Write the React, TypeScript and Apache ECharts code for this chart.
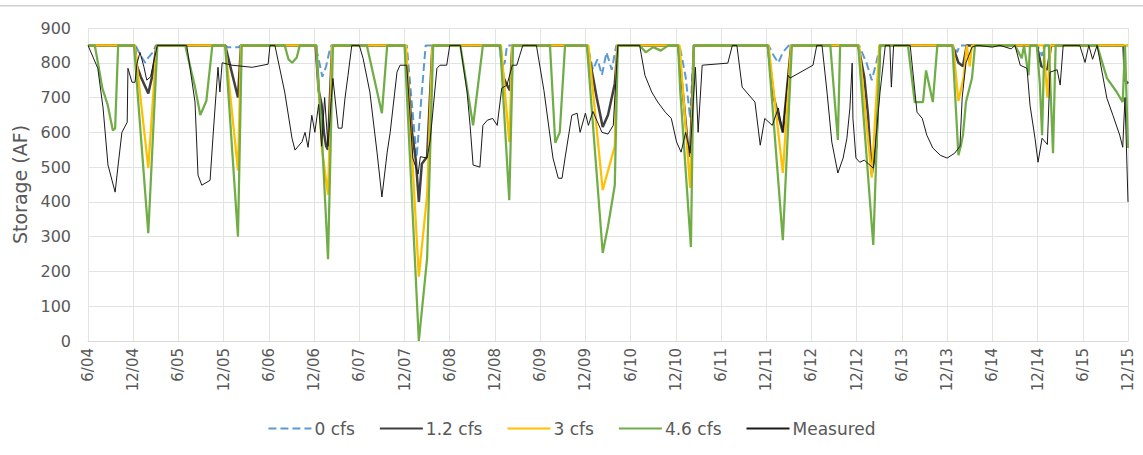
import React, { useEffect, useRef } from "react";
import * as echarts from "echarts";

// x = months since June 2004
const tickLabels = ["6/04","12/04","6/05","12/05","6/06","12/06","6/07","12/07","6/08","12/08","6/09","12/09","6/10","12/10","6/11","12/11","6/12","12/12","6/13","12/13","6/14","12/14","6/15","12/15"];

const seriesNames = ["0 cfs", "1.2 cfs", "3 cfs", "4.6 cfs", "Measured"];

const cfs0: number[][] = [
  [0,850],[6.3,850],[7.0,820],[7.6,800],[8.0,815],[8.6,830],[9.0,850],
  [18.2,850],[18.5,845],[20.0,845],[20.3,850],
  [30.2,850],[30.8,790],[31.1,760],[31.6,790],[32.0,830],[32.3,850],
  [42.3,850],[43.6,528],[44.8,850],
  [54.6,850],[54.9,790],[55.3,800],[55.6,850],
  [66.3,850],[67.0,780],[67.6,810],[68.2,765],[68.8,830],[69.5,780],[70.1,850],
  [78.5,850],[79.3,760],[79.9,640],[80.4,850],
  [90.3,850],[91.0,820],[91.6,800],[92.2,830],[93.0,850],
  [102.3,850],[103.3,800],[104.0,750],[104.6,800],[105.1,850],
  [114.8,850],[115.3,830],[115.7,850],
  [126.0,850],[126.6,820],[127.0,850],
  [138,850]
];

const cfs12: number[][] = [
  [0,850],[6.2,850],[6.5,790],[7.0,760],[8.0,712],[8.5,760],[9.1,850],
  [18.2,850],[19.9,700],[20.3,850],
  [30.2,850],[30.6,720],[31.0,680],[31.3,600],[31.6,560],[31.85,550],[32.1,700],[32.4,850],
  [42.1,850],[43.0,600],[43.5,520],[43.9,400],[44.3,510],[45.0,530],[45.7,850],
  [54.7,850],[55.1,760],[55.5,740],[56.0,720],[56.3,850],
  [66.2,850],[67.0,760],[67.5,700],[68.3,615],[69.0,650],[69.9,740],[70.3,850],
  [78.3,850],[79.0,700],[79.6,560],[79.9,530],[80.4,850],
  [90.2,850],[91.0,700],[92.2,600],[93.3,850],
  [102.2,850],[103.0,760],[103.5,650],[104.0,480],[104.6,560],[105.1,850],
  [114.7,850],[115.5,800],[116.1,790],[116.6,850],
  [125.9,850],[126.5,790],[127.3,780],[127.8,850],
  [137.4,850],[137.6,750],[138,740]
];

const cfs3: number[][] = [
  [0,850],[6.2,850],[8.0,497],[9.1,850],
  [18.2,850],[19.9,490],[20.3,850],
  [30.3,850],[31.0,560],[31.85,420],[32.4,850],
  [42.2,850],[43.9,185],[45.0,420],[45.7,850],
  [54.8,850],[55.9,572],[56.3,850],
  [66.4,850],[68.3,434],[69.9,560],[70.2,850],
  [78.5,850],[79.9,440],[80.4,850],
  [90.3,850],[92.2,483],[93.3,850],
  [102.3,850],[104.0,470],[105.0,850],
  [114.8,850],[115.5,690],[116.2,760],[116.6,850],[117.0,790],[117.3,850],
  [126.8,850],[127.3,700],[127.7,850],
  [138,850]
];

const cfs46: number[][] = [
  [0,850],[0.9,850],[1.4,790],[1.9,727],[2.6,680],[3.3,605],[3.6,612],[4.0,850],
  [6.1,850],[8.0,310],[9.2,850],
  [12.9,850],[14.2,730],[14.9,650],[15.7,690],[16.5,850],
  [18.2,850],[19.9,300],[20.4,850],
  [26.1,850],[26.6,810],[27.1,800],[27.7,815],[28.1,850],
  [30.3,850],[31.1,560],[31.85,235],[32.5,850],
  [37.0,850],[39.0,655],[39.7,850],
  [42.0,850],[43.9,0],[45.0,238],[45.8,850],
  [49.4,850],[51.1,620],[52.4,850],
  [54.7,850],[55.9,405],[56.4,850],
  [61.3,850],[62.0,570],[62.6,600],[63.3,850],
  [66.2,850],[68.3,253],[69.0,330],[69.9,448],[70.3,850],
  [73.2,850],[74.0,830],[75.0,845],[76.0,835],[77.0,850],[78.3,850],[78.6,715],[80.0,270],[80.4,850],
  [90.2,850],[92.2,290],[93.4,850],
  [98.5,850],[99.5,578],[99.8,850],
  [102.2,850],[104.2,276],[105.1,850],
  [108.8,850],[109.7,687],[110.8,687],[111.2,778],[112.1,687],[112.7,850],
  [114.7,850],[115.5,534],[115.8,560],[116.1,592],[116.5,687],[117.3,756],[117.7,850],
  [123.0,850],[123.9,813],[124.2,850],[124.8,764],[125.0,850],[125.9,850],[126.3,740],[126.6,592],[126.9,850],[127.5,850],[128.05,540],[128.4,850],
  [133.9,850],[135.2,756],[136.5,716],[137.3,687],[137.6,850],[138.0,555]
];

const measured: number[][] = [
  [0,850],[1.3,784],[2.0,670],[2.65,506],[3.6,428],[4.0,506],[4.5,600],[5.2,629],[5.3,784],[5.84,744],[6.24,744],[6.5,798],[6.9,830],[7.4,790],[7.8,750],[8.3,760],[9.2,850],
  [13.1,850],[14.2,687],[14.6,477],[15.1,448],[16.2,462],[16.6,592],[17.1,744],[17.25,787],[17.5,716],[17.8,800],[19.1,793],[21.8,787],[23.9,796],[24.15,850],
  [24.8,850],[26.1,716],[27.07,583],[27.47,549],[28.4,573],[28.8,600],[29.2,557],[29.7,649],[30.1,600],[30.6,680],[31.0,560],[31.4,700],[31.85,560],[32.3,700],[32.5,755],[33.2,612],[33.7,612],[34.1,698],[34.5,764],[35.0,850],
  [36.0,850],[36.5,813],[37.4,716],[38.35,543],[39.0,414],[39.7,543],[40.1,600],[41.0,773],[41.4,793],[42.3,793],[43.1,526],[43.8,480],[44.1,530],[45.0,526],[45.4,577],[46.3,784],[46.7,793],[47.6,793],[48.0,850],
  [49.4,850],[50.3,716],[50.7,620],[51.1,506],[52.0,500],[52.4,620],[53.0,635],[53.7,640],[54.3,620],[54.9,727],[55.6,736],[56.3,793],[56.9,793],[57.3,822],[57.7,850],
  [59.5,850],[60.5,720],[61.7,526],[62.4,468],[62.9,468],[63.3,526],[64.2,649],[64.9,655],[65.3,600],[66.0,655],[66.4,620],[67.0,660],[67.6,630],[68.2,600],[69.0,595],[69.7,620],[70.3,850],
  [73.2,850],[73.9,764],[74.8,716],[75.6,687],[76.6,658],[77.4,640],[78.1,572],[78.7,543],[79.3,600],[79.9,540],[80.6,787],[80.96,600],[81.5,793],[84.9,799],[85.5,850],
  [86.1,850],[86.8,730],[88.5,687],[89.2,563],[89.8,640],[90.8,620],[91.6,670],[92.2,600],[92.9,764],[93.15,756],[96.2,793],[96.7,850],
  [97.4,850],[98.06,716],[98.7,572],[99.5,483],[100.2,526],[100.7,583],[101.1,670],[101.4,799],[101.5,640],[101.9,526],[102.4,514],[103.0,520],[104.2,497],[105.1,716],[105.5,793],[105.8,850],
  [106.4,850],[106.6,730],[106.9,850],
  [109.1,850],[110.0,658],[110.7,640],[111.3,592],[112.1,555],[113.1,534],[114.0,526],[115.0,540],[115.7,560],[116.0,700],[116.5,800],[117.3,845],[118.0,850],
  [120.0,845],[121.0,850],[122.5,840],[123.0,850],[123.7,793],[124.6,784],[125.0,678],[125.66,583],[126.06,514],[126.6,583],[127.3,565],[127.65,773],[128.6,780],[129.0,736],[129.4,850],
  [131.6,850],[132.3,801],[132.8,850],[133.3,810],[133.9,850],[135.2,698],[136.0,649],[136.9,592],[137.3,557],[137.6,700],[138.0,400]
];

const FONT = "'DejaVu Sans', sans-serif";
const GREY = "#595959";

export default function App() {
  const ref = useRef<HTMLDivElement>(null);
  useEffect(() => {
    document.body.style.margin = "0";
    const chart = echarts.init(ref.current!, null, { renderer: "svg" });
    const mk = (name: string, data: number[][], color: string, width: number, type: string = "solid") => ({
      name, type: "line", data, symbol: "none", showSymbol: false,
      lineStyle: { color, width, type }, itemStyle: { color },
    });
    chart.setOption({
      animation: false,
      backgroundColor: "#ffffff",
      textStyle: { fontFamily: FONT },
      graphic: [
        { type: "rect", shape: { x: 0, y: 5, width: 1143, height: 1.5 }, style: { fill: "#d0d0d0" } },
      ],
      grid: { left: 88, right: 15, top: 28, bottom: 114 },
      legend: {
        bottom: 13,
        left: "center",
        itemWidth: 43,
        itemHeight: 10,
        itemGap: 24,
        itemStyle: { opacity: 0 },
        textStyle: { color: GREY, fontSize: 17, fontFamily: FONT, padding: [0, 0, 0, -2] },
        data: seriesNames,
      },
      xAxis: {
        type: "value",
        min: 0,
        max: 138,
        interval: 6,
        axisLine: { show: true, lineStyle: { color: "#d9d9d9" } },
        axisTick: { show: false },
        splitLine: { show: true, lineStyle: { color: "#e3e3e3" } },
        axisLabel: {
          rotate: 90,
          color: GREY,
          fontSize: 15,
          fontFamily: FONT,
          margin: 7,
          formatter: (v: number) => tickLabels[Math.round(v / 6)] ?? "",
        },
      },
      yAxis: {
        type: "value",
        min: 0,
        max: 900,
        interval: 100,
        name: "Storage (AF)",
        nameLocation: "middle",
        nameGap: 58,
        nameTextStyle: { color: GREY, fontSize: 19, fontFamily: FONT },
        axisLine: { show: false },
        axisTick: { show: false },
        splitLine: { show: true, lineStyle: { color: "#e3e3e3" } },
        axisLabel: { color: GREY, fontSize: 16, fontFamily: FONT, margin: 17 },
      },
      series: [
        mk("0 cfs", cfs0, "#5B9BD5", 2, "dashed"),
        mk("1.2 cfs", cfs12, "#404040", 2.5),
        mk("3 cfs", cfs3, "#FFC000", 2.25),
        mk("4.6 cfs", cfs46, "#70AD47", 2.25),
        mk("Measured", measured, "#1a1a1a", 1),
      ],
    });
    return () => chart.dispose();
  }, []);
  return <div ref={ref} style={{ position: "absolute", left: 0, top: 0, width: 1143, height: 455 }} />;
}
